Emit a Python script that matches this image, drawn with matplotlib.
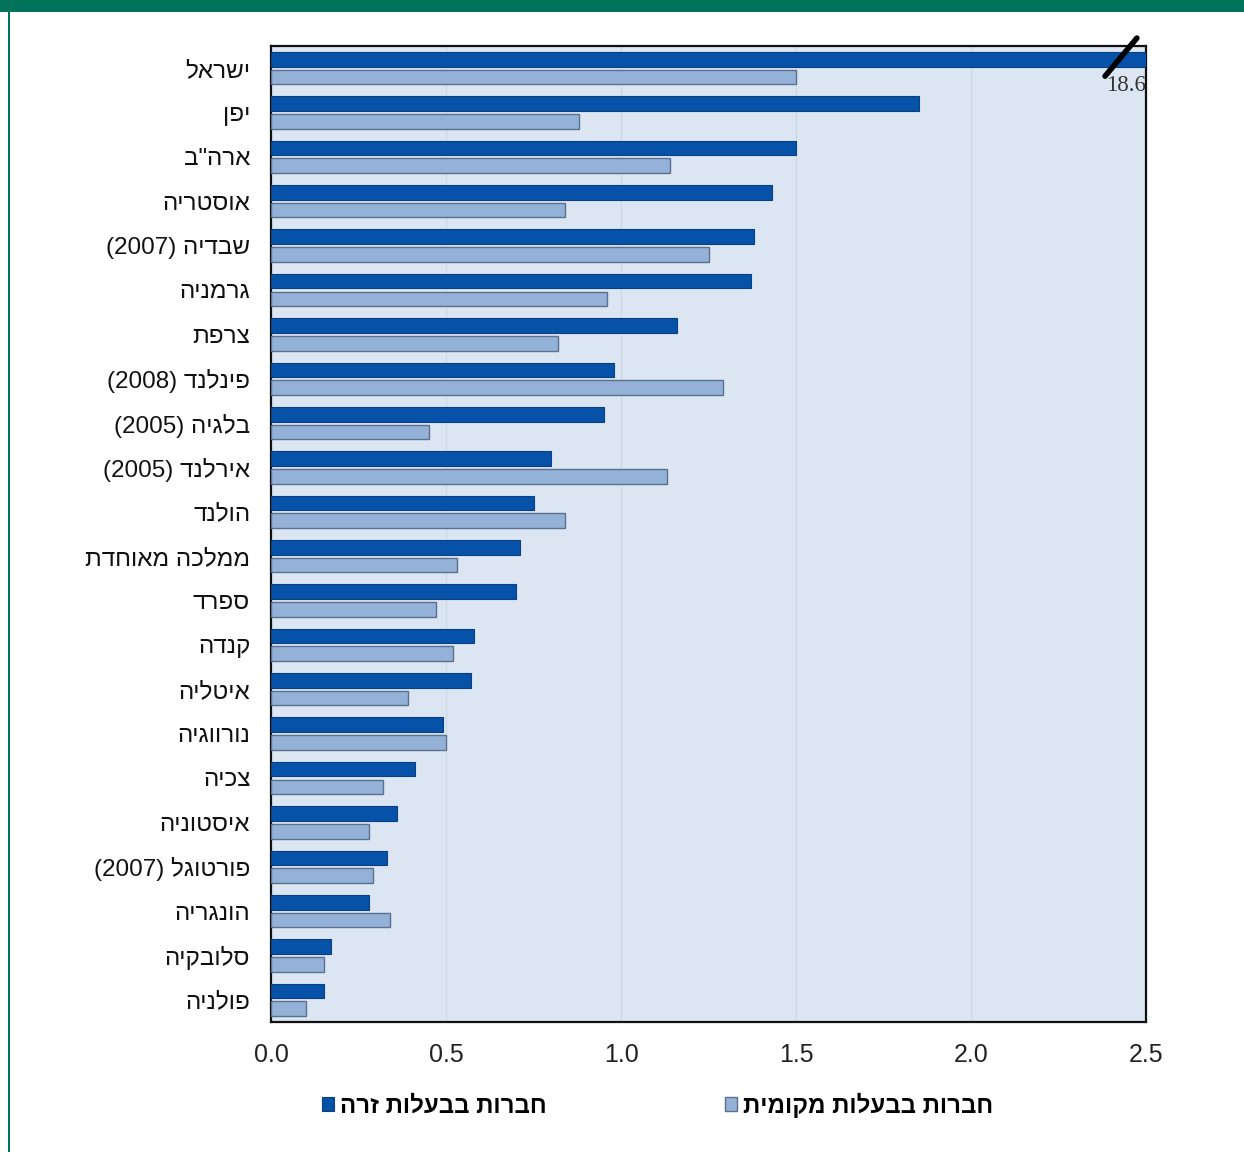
import matplotlib
matplotlib.use("Agg")
import matplotlib.pyplot as plt
from matplotlib.patches import Rectangle
import numpy as np

# Countries (top to bottom) and the two series
countries = [
    "ישראל", "יפן", 'ארה"ב', "אוסטריה", "שבדיה (2007)", "גרמניה", "צרפת",
    "פינלנד (2008)", "בלגיה (2005)", "אירלנד (2005)", "הולנד", "ממלכה מאוחדת",
    "ספרד", "קנדה", "איטליה", "נורווגיה", "צכיה", "איסטוניה",
    "פורטוגל (2007)", "הונגריה", "סלובקיה", "פולניה",
]
foreign_owned = [18.6, 1.85, 1.50, 1.43, 1.38, 1.37, 1.16, 0.98, 0.95, 0.80, 0.75,
                 0.71, 0.70, 0.58, 0.57, 0.49, 0.41, 0.36, 0.33, 0.28, 0.17, 0.15]
domestic_owned = [1.50, 0.88, 1.14, 0.84, 1.25, 0.96, 0.82, 1.29, 0.45, 1.13, 0.84,
                  0.53, 0.47, 0.52, 0.39, 0.50, 0.32, 0.28, 0.29, 0.34, 0.15, 0.10]
series_labels = ["חברות בבעלות זרה", "חברות בבעלות מקומית"]
x_ticks = [0.0, 0.5, 1.0, 1.5, 2.0, 2.5]
x_max = 2.5


def visual(s):
    """Reorder a right-to-left label so it reads correctly when drawn left to right."""
    out = []
    for w in reversed(s.split(" ")):
        if any("\u0590" <= c <= "\u05ff" for c in w):
            out.append(w[::-1])
        else:
            out.append(w)
    return " ".join(out)


FAM = ["Liberation Sans", "DejaVu Sans"]
plt.rcParams["font.family"] = FAM

DARK = "#0652a9"
DARK_EDGE = "#0b3f80"
LIGHT = "#94b2d8"
LIGHT_EDGE = "#5b6f8e"
BG = "#dce6f2"
GREEN = "#00735a"

fig = plt.figure(figsize=(12.44, 11.52), dpi=100)
fig.patch.set_facecolor("white")

# frame decoration: top band and left rule
fig.add_artist(Rectangle((0, 1 - 12 / 1152), 1, 12 / 1152, transform=fig.transFigure,
                         facecolor=GREEN, edgecolor="none"))
fig.add_artist(Rectangle((8 / 1244, 0), 2 / 1244, 1, transform=fig.transFigure,
                         facecolor=GREEN, edgecolor="none"))

ax = fig.add_axes([271 / 1244, 1 - 1022 / 1152, (1146 - 271) / 1244, (1022 - 46) / 1152])
ax.set_facecolor(BG)

y = np.arange(len(countries))
h = 0.33
off = 0.2
b1 = ax.barh(y - off, foreign_owned, height=h, color=DARK, edgecolor=DARK_EDGE,
             linewidth=0.8, label=visual(series_labels[0]), zorder=3)
b2 = ax.barh(y + off, domestic_owned, height=h, color=LIGHT, edgecolor=LIGHT_EDGE,
             linewidth=1.0, label=visual(series_labels[1]), zorder=3)

ax.set_xlim(0, x_max)
ax.set_ylim(len(countries) - 0.5, -0.5)

ax.set_xticks(x_ticks)
ax.set_xticklabels([f"{t:.1f}" for t in x_ticks], fontsize=18, color="#222222")
ax.set_yticks(y)
ax.set_yticklabels([visual(c) for c in countries], fontsize=17.5, color="#111111")
ax.tick_params(axis="both", length=0)
ax.tick_params(axis="y", pad=15)
ax.tick_params(axis="x", pad=15)

ax.grid(axis="x", color="#cfd9e6", linewidth=1.0, zorder=0)
ax.grid(axis="y", visible=False)
ax.set_axisbelow(True)

for s in ax.spines.values():
    s.set_color("#111111")
    s.set_linewidth(1.6)

# break mark and value for the bar that runs off the scale
ax.plot([2.383, 2.474], [0.18, -0.68], color="black", linewidth=4,
        solid_capstyle="round", clip_on=False, zorder=5)
ax.text(x_max, 0.38, f"{foreign_owned[0]}", ha="right", va="center", fontsize=16.5,
        family=["Liberation Serif", "DejaVu Serif"], color="#333333", zorder=6)

leg = fig.legend(handles=[b1, b2], loc="center", bbox_to_anchor=(0.5285, 1 - 1105 / 1152),
                 ncol=2, frameon=False, columnspacing=7.45, handletextpad=0.25,
                 handlelength=0.5, handleheight=0.5,
                 prop={"family": FAM, "weight": "bold", "size": 17.3})

fig.savefig("out.png", dpi=100, facecolor="white")
